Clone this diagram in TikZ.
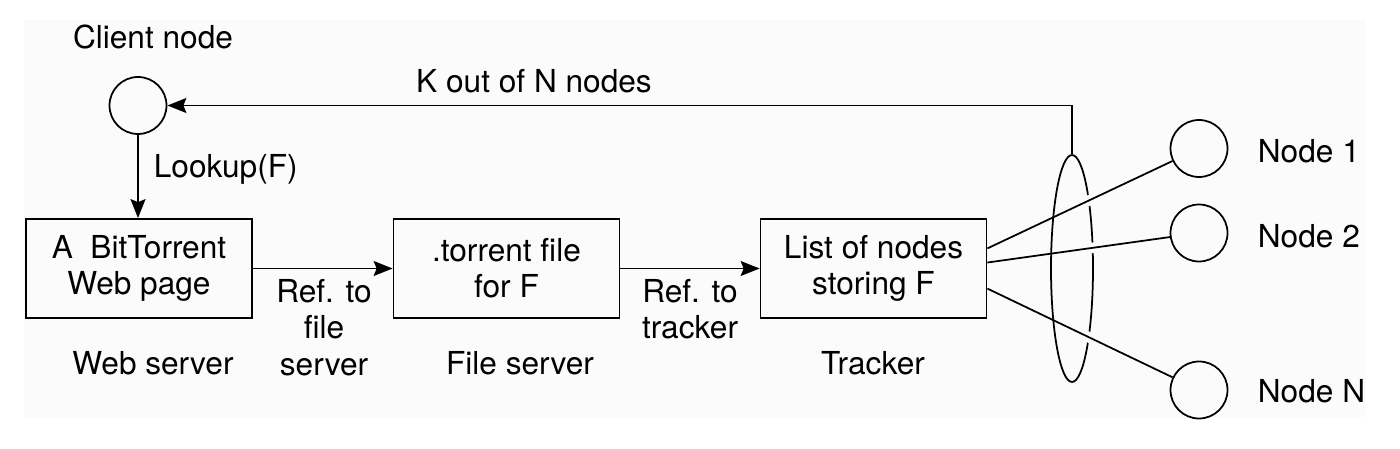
\documentclass[tikz,border=0pt]{standalone}
\usepackage{fontspec}
\setmainfont{TeX Gyre Heros}
\usetikzlibrary{shapes.geometric,arrows.meta}
\definecolor{bgc}{RGB}{251,251,251}
\begin{document}
\begin{tikzpicture}[x=0.02cm,y=-0.02cm, line width=1pt,
  box/.style={draw, minimum width=4.52cm, minimum height=1.98cm, inner sep=0, align=center, font=\fontsize{18}{20.5}\selectfont},
  peer/.style={draw, circle, minimum size=1.14cm, inner sep=0},
  lbl/.style={font=\fontsize{18}{21}\selectfont, inner sep=0, anchor=base},
  lblw/.style={lbl, anchor=base west},
  arr/.style={-{Stealth[length=0.38cm,width=0.3cm,inset=0.06cm]}},
  halo/.style={draw=bgc, line width=6pt}]
\useasboundingbox (0,0) rectangle (1400,449);
\fill[bgc] (24,20) rectangle (1366,417);
% nodes
\node[peer] (client) at (138,105.5) {};
\node[peer] (n1) at (1199,148.5) {};
\node[peer] (n2) at (1199,233) {};
\node[peer] (nN) at (1199,390) {};
\node[box] (b1) at (139,268.5) {A\ \ BitTorrent\\Web page};
\node[box] (b2) at (506.5,268.5) {.torrent file\\for F};
\node[box] (b3) at (873.5,268.5) {List of nodes\\storing F};
\node[draw, ellipse, minimum width=0.84cm, minimum height=4.54cm, inner sep=0] (grp) at (1072,268.5) {};
% labels
\node[lbl] (lclient) at (153,49) {Client node};
\node[lbl] (lk) at (534,93) {K out of N nodes};
\node[lblw] (llook) at (153,178) {Lookup(F)};
\node[lbl] (rf1) at (324,302) {Ref. to};
\node[lbl] (rf2) at (324,338) {file};
\node[lbl] (rf3) at (324,376) {server};
\node[lbl] (rt1) at (690,302) {Ref. to};
\node[lbl] (rt2) at (690,338) {tracker};
\node[lbl] (lws) at (153,375) {Web server};
\node[lbl] (lfs) at (520,375) {File server};
\node[lbl] (ltr) at (873,375) {Tracker};
\node[lblw] (ln1) at (1257,163) {Node 1};
\node[lblw] (ln2) at (1257,248) {Node 2};
\node[lblw] (lnN) at (1257,402) {Node N};
% connectors
\draw[arr] (client.south) -- (client.south |- b1.north);
\draw[arr] (b1) -- (b2);
\draw[arr] (b2) -- (b3);
\draw[arr] (grp.north) |- (client.east);
\begin{scope}
  \clip (1072,0) rectangle (1120,449);
  \draw[halo] (b3.10.7) -- (n1);
  \draw[halo] (b3.3.3) -- (n2);
  \draw[halo] (b3.-10.7) -- (nN);
\end{scope}
\draw (b3.10.7) -- (n1);
\draw (b3.3.3) -- (n2);
\draw (b3.-10.7) -- (nN);
\end{tikzpicture}
\end{document}
